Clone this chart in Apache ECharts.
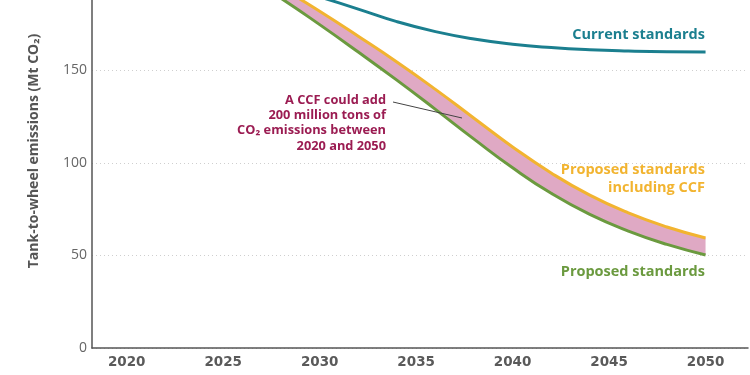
<!DOCTYPE html>
<html>
<head>
<meta charset="utf-8">
<script src="https://cdn.jsdelivr.net/npm/echarts@6/dist/echarts.min.js"></script>
<style>
  html, body { margin: 0; padding: 0; background: #fff; }
  #chart { width: 750px; height: 375px; }
</style>
</head>
<body>
<div id="chart"></div>
<script>
var years = [2020, 2022, 2024, 2026, 2028, 2030, 2032, 2034, 2036, 2038, 2040, 2042, 2044, 2046, 2048, 2050];
var current = [219.8, 214.2, 208.4, 202.4, 196.2, 189.8, 183.2, 176.4, 171, 167, 164.2, 162.4, 161.2, 160.5, 160.1, 160];
var proposedCcf = [234.7, 226.7, 217.2, 206.7, 194.8, 182, 168.5, 154.6, 139.8, 124.2, 108.7, 94.6, 82.6, 73, 65.4, 59.5];
var proposed = [233.7, 224.7, 214.2, 202.2, 189, 174.8, 160, 144.8, 129, 112.9, 97.4, 83.6, 72.2, 63.2, 56, 50.3];
var xTicks = [2020, 2025, 2030, 2035, 2040, 2045, 2050];

var SMOOTH = 0.5;

function pairs(vals) {
    return vals.map(function (v, i) { return [years[i], v]; });
}

// same bezier smoothing the line series uses, sampled to a polyline (pixel space)
function smoothPts(pts) {
    var n = pts.length, out = [pts[0]], cp0 = pts[0];
    for (var i = 1; i < n; i++) {
        var a = pts[i - 1], p = pts[i], cp1 = p, next0 = p;
        if (i < n - 1) {
            var nx = pts[i + 1];
            var vx = nx[0] - a[0], vy = nx[1] - a[1];
            var l0 = Math.hypot(p[0] - a[0], p[1] - a[1]);
            var l1 = Math.hypot(nx[0] - p[0], nx[1] - p[1]);
            var r = l1 / (l0 + l1);
            cp1 = [p[0] - vx * SMOOTH * (1 - r), p[1] - vy * SMOOTH * (1 - r)];
            next0 = [p[0] + vx * SMOOTH * r, p[1] + vy * SMOOTH * r];
        }
        for (var t = 1; t <= 20; t++) {
            var u = t / 20, m = 1 - u;
            out.push([
                m * m * m * a[0] + 3 * m * m * u * cp0[0] + 3 * m * u * u * cp1[0] + u * u * u * p[0],
                m * m * m * a[1] + 3 * m * m * u * cp0[1] + 3 * m * u * u * cp1[1] + u * u * u * p[1]
            ]);
        }
        cp0 = next0;
    }
    return out;
}

function renderBand(params, api) {
    if (params.dataIndex !== 0) return;
    var top = smoothPts(years.map(function (y, i) { return api.coord([y, proposedCcf[i]]); }));
    var bottom = smoothPts(years.map(function (y, i) { return api.coord([y, proposed[i]]); }));
    return {
        type: 'polygon',
        shape: { points: top.concat(bottom.reverse()) },
        style: { fill: '#dfa9c4' }
    };
}

var font = '"Open Sans", Lato, sans-serif';
var chart = echarts.init(document.getElementById('chart'));
var option = {
    animation: false,
    grid: { left: 92, right: 2, top: -22, bottom: 27, outerBoundsMode: 'none', containLabel: false },
    xAxis: {
        type: 'value',
        min: 2018.2,
        max: 2052.2,
        axisLine: { lineStyle: { color: '#555', width: 1.5 } },
        axisTick: { show: false },
        splitLine: { show: false },
        axisLabel: {
            customValues: xTicks,
            formatter: function (v) { return String(v); },
            color: '#5a5a5a',
            fontFamily: '"DejaVu Sans", sans-serif',
            fontWeight: 'bold',
            fontSize: 13.5,
            margin: 7
        }
    },
    yAxis: {
        type: 'value',
        min: 0,
        max: 200,
        interval: 50,
        axisLine: { show: true, lineStyle: { color: '#555', width: 1.5 } },
        axisTick: { show: false },
        splitLine: { lineStyle: { color: '#cfcfcf', type: [1, 3], width: 1 } },
        axisLabel: { color: '#666', fontFamily: font, fontSize: 14, margin: 5 }
    },
    series: [
        {
            name: 'CCF gap', type: 'custom', renderItem: renderBand,
            data: [[years[0], proposed[0]]], silent: true, z: 1
        },
        {
            name: 'Current standards', type: 'line', smooth: SMOOTH, symbol: 'none',
            data: pairs(current), lineStyle: { color: '#1b7f8f', width: 3 }, z: 3
        },
        {
            name: 'Proposed standards including CCF', type: 'line', smooth: SMOOTH, symbol: 'none',
            data: pairs(proposedCcf), lineStyle: { color: '#f2b430', width: 3 }, z: 3
        },
        {
            name: 'Proposed standards', type: 'line', smooth: SMOOTH, symbol: 'none',
            data: pairs(proposed), lineStyle: { color: '#6b9a3f', width: 3 }, z: 3
        }
    ],
    graphic: [
        {
            type: 'text', x: 34, y: 151, rotation: Math.PI / 2,
            style: {
                text: 'Tank-to-wheel emissions (Mt CO₂)', fill: '#555', font: 'bold 14px ' + font,
                align: 'center', verticalAlign: 'middle'
            }
        },
        {
            type: 'text', x: 705, y: 35,
            style: { text: 'Current standards', fill: '#1b7f8f', font: 'bold 14.5px ' + font, align: 'right', verticalAlign: 'middle' }
        },
        {
            type: 'text', x: 705, y: 179,
            style: {
                text: 'Proposed standards\nincluding CCF', fill: '#f2b430', font: 'bold 14.5px ' + font,
                align: 'right', verticalAlign: 'middle', lineHeight: 18
            }
        },
        {
            type: 'text', x: 705, y: 272,
            style: { text: 'Proposed standards', fill: '#6b9a3f', font: 'bold 14.5px ' + font, align: 'right', verticalAlign: 'middle' }
        },
        {
            type: 'text', x: 386, y: 123,
            style: {
                text: 'A CCF could add\n200 million tons of\nCO₂ emissions between\n2020 and 2050',
                fill: '#9b1c52', font: 'bold 12.8px ' + font, align: 'right', verticalAlign: 'middle', lineHeight: 15.3
            }
        },
        {
            type: 'line', shape: { x1: 393, y1: 102, x2: 462, y2: 118 },
            style: { stroke: '#444', lineWidth: 1 }, z: 10
        }
    ]
};
chart.setOption(option);
</script>
</body>
</html>
